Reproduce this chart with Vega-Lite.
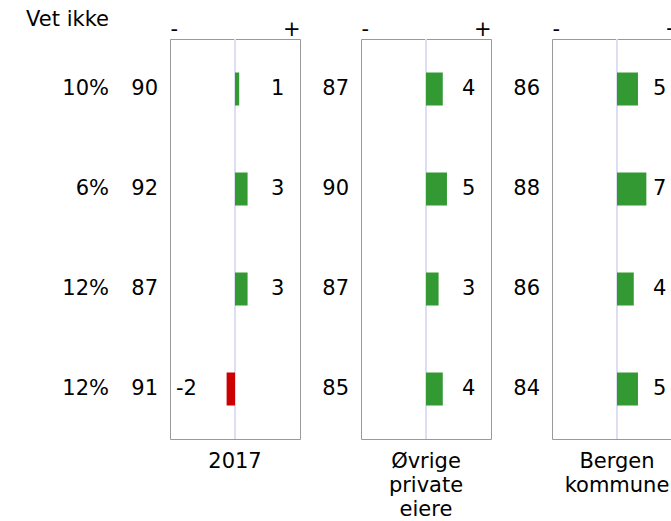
{
  "$schema": "https://vega.github.io/schema/vega-lite/v6.json",
  "padding": {"left": 24, "top": 9, "right": 0, "bottom": 0},
  "bounds": "flush",
  "spacing": 61,
  "config": {
    "font": "DejaVu Sans",
    "view": {"stroke": null},
    "text": {"font": "DejaVu Sans", "fontSize": 21, "color": "#000"},
    "title": {"font": "DejaVu Sans", "fontSize": 21, "fontWeight": "normal", "color": "#000"},
    "axis": {"labelFont": "DejaVu Sans", "titleFont": "DejaVu Sans"},
    "header": {"labelFont": "DejaVu Sans"}
  },
  "datasets": {
    "rows": [
      {"group": "2017", "q": 1, "score": 90, "change": 1, "vet": "10%"},
      {"group": "2017", "q": 2, "score": 92, "change": 3, "vet": "6%"},
      {"group": "2017", "q": 3, "score": 87, "change": 3, "vet": "12%"},
      {"group": "2017", "q": 4, "score": 91, "change": -2, "vet": "12%"},
      {"group": "Øvrige private eiere", "q": 1, "score": 87, "change": 4, "vet": "10%"},
      {"group": "Øvrige private eiere", "q": 2, "score": 90, "change": 5, "vet": "6%"},
      {"group": "Øvrige private eiere", "q": 3, "score": 87, "change": 3, "vet": "12%"},
      {"group": "Øvrige private eiere", "q": 4, "score": 85, "change": 4, "vet": "12%"},
      {"group": "Bergen kommune", "q": 1, "score": 86, "change": 5, "vet": "10%"},
      {"group": "Bergen kommune", "q": 2, "score": 88, "change": 7, "vet": "6%"},
      {"group": "Bergen kommune", "q": 3, "score": 86, "change": 4, "vet": "12%"},
      {"group": "Bergen kommune", "q": 4, "score": 84, "change": 5, "vet": "12%"}
    ]
  },
  "hconcat": [
    {
      "width": 85,
      "height": 400,
      "title": {"text": "Vet ikke", "anchor": "end", "orient": "top", "offset": 9},
      "data": {"name": "rows"},
      "transform": [{"filter": "datum.group === '2017'"}],
      "mark": {"type": "text", "align": "right", "baseline": "middle"},
      "encoding": {
        "x": {"datum": 1, "type": "quantitative", "scale": {"domain": [0, 1]}, "axis": null},
        "y": {"field": "q", "type": "ordinal", "axis": null, "scale": {"padding": 0.5}},
        "text": {"field": "vet"}
      }
    },
    {
      "data": {"name": "rows"},
      "bounds": "flush",
      "spacing": 61,
      "facet": {
        "column": {
          "field": "group",
          "type": "nominal",
          "sort": ["2017", "Øvrige private eiere", "Bergen kommune"],
          "title": null,
          "header": {
            "labelOrient": "bottom",
            "labelFontSize": 21,
            "labelFont": "DejaVu Sans",
            "labelColor": "#000",
            "labelExpr": "split(datum.value, ' ')",
            "labelPadding": 12,
            "labelLineHeight": 24,
            "labelBaseline": "top"
          }
        }
      },
      "spec": {
        "width": 130,
        "height": 400,
        "view": {"stroke": "#999", "strokeWidth": 1},
        "layer": [
          {
            "mark": {"type": "rule", "color": "#dedef2", "strokeWidth": 2},
            "encoding": {
              "x": {
                "datum": 0,
                "type": "quantitative",
                "scale": {"domain": [-15.5, 15.5], "nice": false, "zero": false},
                "axis": {
                  "orient": "top",
                  "values": [-15.5, 15.5],
                  "labelExpr": "datum.value < 0 ? '-' : '+'",
                  "labelFlush": true,
                  "labelFontSize": 21,
                  "labelColor": "#000",
                  "labelPadding": 0,
                  "ticks": false,
                  "domain": false,
                  "grid": false,
                  "title": null
                }
              }
            }
          },
          {
            "mark": {"type": "bar"},
            "encoding": {
              "x": {"field": "change", "type": "quantitative"},
              "x2": {"datum": 0},
              "y": {"field": "q", "type": "ordinal", "axis": null, "scale": {"paddingInner": 0.67, "paddingOuter": 0.335}},
              "color": {"condition": {"test": "datum.change < 0", "value": "#cc0000"}, "value": "#339933"}
            }
          },
          {
            "mark": {"type": "text", "align": "right", "baseline": "middle", "dx": -12},
            "encoding": {
              "x": {"datum": -15.5, "type": "quantitative"},
              "y": {"field": "q", "type": "ordinal"},
              "text": {"field": "score"}
            }
          },
          {
            "transform": [{"filter": "datum.change > 0"}],
            "mark": {"type": "text", "align": "center", "baseline": "middle"},
            "encoding": {
              "x": {"datum": 10.2, "type": "quantitative"},
              "y": {"field": "q", "type": "ordinal"},
              "text": {"field": "change"}
            }
          },
          {
            "transform": [{"filter": "datum.change < 0"}],
            "mark": {"type": "text", "align": "center", "baseline": "middle"},
            "encoding": {
              "x": {"datum": -11.6, "type": "quantitative"},
              "y": {"field": "q", "type": "ordinal"},
              "text": {"field": "change"}
            }
          }
        ]
      }
    }
  ]
}
